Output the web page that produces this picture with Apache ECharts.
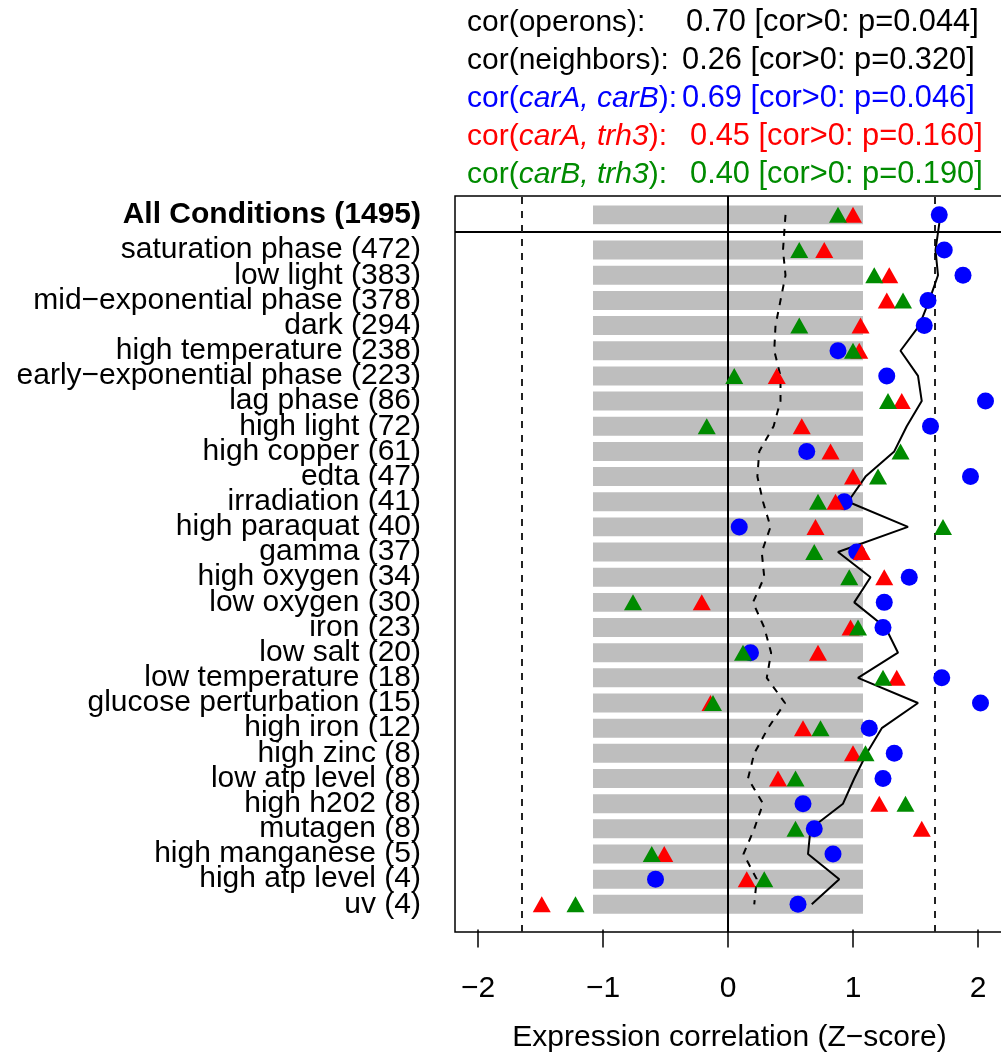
<!DOCTYPE html>
<html>
<head>
<meta charset="utf-8">
<title>Expression correlation</title>
<script src="https://cdn.jsdelivr.net/npm/echarts@6/dist/echarts.min.js"></script>
<style>
  html, body { margin: 0; padding: 0; background: #fff; }
  #chart { width: 1001px; height: 1052px; }
</style>
</head>
<body>
<div id="chart"></div>
<script>
// rows, top to bottom (first one is the summary row in its own box)
const rows = [
  'All Conditions (1495)',
  'saturation phase (472)', 'low light (383)', 'mid\u2212exponential phase (378)', 'dark (294)',
  'high temperature (238)', 'early\u2212exponential phase (223)', 'lag phase (86)', 'high light (72)',
  'high copper (61)', 'edta (47)', 'irradiation (41)', 'high paraquat (40)', 'gamma (37)',
  'high oxygen (34)', 'low oxygen (30)', 'iron (23)', 'low salt (20)', 'low temperature (18)',
  'glucose perturbation (15)', 'high iron (12)', 'high zinc (8)', 'low atp level (8)',
  'high h202 (8)', 'mutagen (8)', 'high manganese (5)', 'high atp level (4)', 'uv (4)'
];

// z-scores per row
const carAcarB = [1.69, 1.73, 1.88, 1.60, 1.57, 0.88, 1.27, 2.06, 1.62, 0.63, 1.94, 0.93, 0.09, 1.03,
  1.45, 1.25, 1.24, 0.18, 1.71, 2.02, 1.13, 1.33, 1.24, 0.60, 0.69, 0.84, -0.58, 0.56];
const carAtrh3 = [1.00, 0.77, 1.29, 1.27, 1.06, 1.05, 0.39, 1.39, 0.59, 0.82, 1.00, 0.86, 0.70, 1.07,
  1.25, -0.21, 0.98, 0.72, 1.35, -0.14, 0.60, 1.00, 0.40, 1.21, 1.55, -0.51, 0.15, -1.49];
const carBtrh3 = [0.88, 0.57, 1.17, 1.40, 0.57, 1.00, 0.05, 1.28, -0.17, 1.38, 1.20, 0.72, 1.72, 0.69,
  0.97, -0.76, 1.04, 0.12, 1.24, -0.12, 0.74, 1.10, 0.54, 1.42, 0.54, -0.61, 0.29, -1.22];
const operons = [1.70, 1.66, 1.68, 1.61, 1.53, 1.38, 1.52, 1.55, 1.43, 1.33, 1.10, 0.96, 1.44, 0.88,
  1.14, 1.01, 1.26, 1.36, 1.04, 1.52, 1.23, 1.11, 1.01, 0.92, 0.66, 0.64, 0.89, 0.67];
const neighbors = [0.46, 0.44, 0.46, 0.42, 0.38, 0.37, 0.42, 0.42, 0.365, 0.25, 0.235, 0.28, 0.34, 0.27,
  0.29, 0.20, 0.29, 0.345, 0.31, 0.456, 0.32, 0.21, 0.16, 0.28, 0.21, 0.124, 0.23, 0.21];

// grey band per row
const bandLo = -1.08;
const bandHi = 1.08;
const signifZ = 1.645;
const xTicks = [-2, -1, 0, 1, 2];

// correlation summary at the top
const statNames = ['operons', 'neighbors', 'carA, carB', 'carA, trh3', 'carB, trh3'];
const statCor = [0.70, 0.26, 0.69, 0.45, 0.40];
const statP = [0.044, 0.320, 0.046, 0.160, 0.190];

const FONT = '"Liberation Sans", Arial, Helvetica, sans-serif';
const BLUE = '#0000ff', RED = '#ff0000', GREEN = '#008b00';
const statColors = ['#000', '#000', BLUE, RED, GREEN];
const statItalic = [false, false, true, true, true];
const statValueX = [686, 682, 682, 690, 690];
const statY = [23, 61, 99, 137, 175];

const Y_MIN = -0.1, Y_MAX = 29.15;

// y position of every row on the value axis
const rowY = rows.map((_, i) => i === 0 ? 28.4 : rows.length - i);
const pts = arr => arr.map((v, i) => [v, rowY[i]]);
// ascending, with a blank entry at the axis min so echarts' min-label check drops that one
const yLabelValues = [Y_MIN].concat(rowY.slice().sort((a, b) => a - b));

function rowLabel(v) {
  const i = rowY.findIndex(y => Math.abs(y - v) < 1e-6);
  if (i < 0) return '';
  return i === 0 ? '{b|' + rows[i] + '}' : rows[i];
}

const graphic = [];
statNames.forEach((name, i) => {
  const base = { fontSize: 30, fontFamily: FONT, fill: statColors[i] };
  graphic.push({
    type: 'text', x: 467, y: statY[i], z: 10,
    style: Object.assign({}, base, {
      text: statItalic[i] ? 'cor({i|' + name + '}):' : 'cor(' + name + '):',
      verticalAlign: 'middle', align: 'left',
      rich: { i: Object.assign({}, base, { fontStyle: 'italic' }) }
    })
  });
  graphic.push({
    type: 'text', x: statValueX[i], y: statY[i], z: 10,
    style: Object.assign({}, base, {
      fontSize: 30.8,
      text: statCor[i].toFixed(2) + ' [cor>0: p=' + statP[i].toFixed(3) + ']',
      verticalAlign: 'middle', align: 'left'
    })
  });
});

const chart = echarts.init(document.getElementById('chart'));
chart.setOption({
  animation: false,
  backgroundColor: '#fff',
  graphic: graphic,
  grid: {
    left: 455, top: 196, width: 549, bottom: 120,
    show: true, borderColor: '#000', borderWidth: 1.5,
    containLabel: false, outerBoundsMode: 'none'
  },
  xAxis: {
    type: 'value', min: -2.184, max: 2.208,
    axisLine: { show: false },
    splitLine: { show: false },
    axisTick: { customValues: xTicks, length: 18, lineStyle: { color: '#000', width: 1.5 } },
    axisLabel: {
      customValues: xTicks, margin: 42, fontSize: 30, fontFamily: FONT, color: '#000',
      showMinLabel: true, showMaxLabel: true, hideOverlap: false,
      formatter: v => v < 0 ? '\u2212' + Math.abs(v) : String(v)
    },
    name: 'Expression correlation (Z\u2212score)',
    nameLocation: 'middle', nameGap: 91,
    nameTextStyle: { fontSize: 30, fontFamily: FONT, color: '#000' }
  },
  yAxis: {
    type: 'value', min: Y_MIN, max: Y_MAX,
    axisLine: { show: false },
    splitLine: { show: false },
    axisTick: { customValues: yLabelValues, length: 18, lineStyle: { color: '#000', width: 1.5 } },
    axisLabel: {
      customValues: yLabelValues, margin: 34, fontSize: 30, fontFamily: FONT, color: '#000',
      showMinLabel: false, showMaxLabel: true, hideOverlap: false,
      formatter: rowLabel,
      rich: { b: { fontSize: 30, fontFamily: FONT, fontWeight: 'bold', color: '#000' } }
    }
  },
  series: [
    {
      type: 'custom', z: 1, silent: true,
      data: rowY.map(y => [bandLo, y, bandHi]),
      encode: { x: [0, 2], y: 1 },
      renderItem: function (params, api) {
        const y = api.value(1);
        const p0 = api.coord([api.value(0), y + 0.377]);
        const p1 = api.coord([api.value(2), y - 0.377]);
        return {
          type: 'rect',
          shape: { x: p0[0], y: p0[1], width: p1[0] - p0[0], height: p1[1] - p0[1] },
          style: { fill: '#bebebe' }
        };
      }
    },
    {
      type: 'line', z: 2, data: [], silent: true,
      markLine: {
        silent: true, symbol: 'none', z: 2, label: { show: false },
        lineStyle: { color: '#000', width: 2, type: 'solid' },
        data: [
          { xAxis: 0 },
          { yAxis: 27.72 },
          { xAxis: -signifZ, lineStyle: { color: '#222', width: 2, type: [7, 7] } },
          { xAxis: signifZ, lineStyle: { color: '#222', width: 2, type: [7, 7] } }
        ]
      }
    },
    {
      name: 'neighbors', type: 'line', z: 3, data: pts(neighbors),
      showSymbol: false, silent: true,
      lineStyle: { color: '#000', width: 2, type: [7, 7] }
    },
    {
      name: 'operons', type: 'line', z: 3, data: pts(operons),
      showSymbol: false, silent: true,
      lineStyle: { color: '#000', width: 2 }
    },
    {
      name: 'carA-carB', type: 'scatter', z: 4, data: pts(carAcarB),
      symbol: 'circle', symbolSize: 17, itemStyle: { color: BLUE, opacity: 1 }
    },
    {
      name: 'carA-trh3', type: 'scatter', z: 5, data: pts(carAtrh3),
      symbol: 'triangle', symbolSize: [18, 16], itemStyle: { color: RED, opacity: 1 }
    },
    {
      name: 'carB-trh3', type: 'scatter', z: 6, data: pts(carBtrh3),
      symbol: 'triangle', symbolSize: [18, 16], itemStyle: { color: GREEN, opacity: 1 }
    }
  ]
});
</script>
</body>
</html>
